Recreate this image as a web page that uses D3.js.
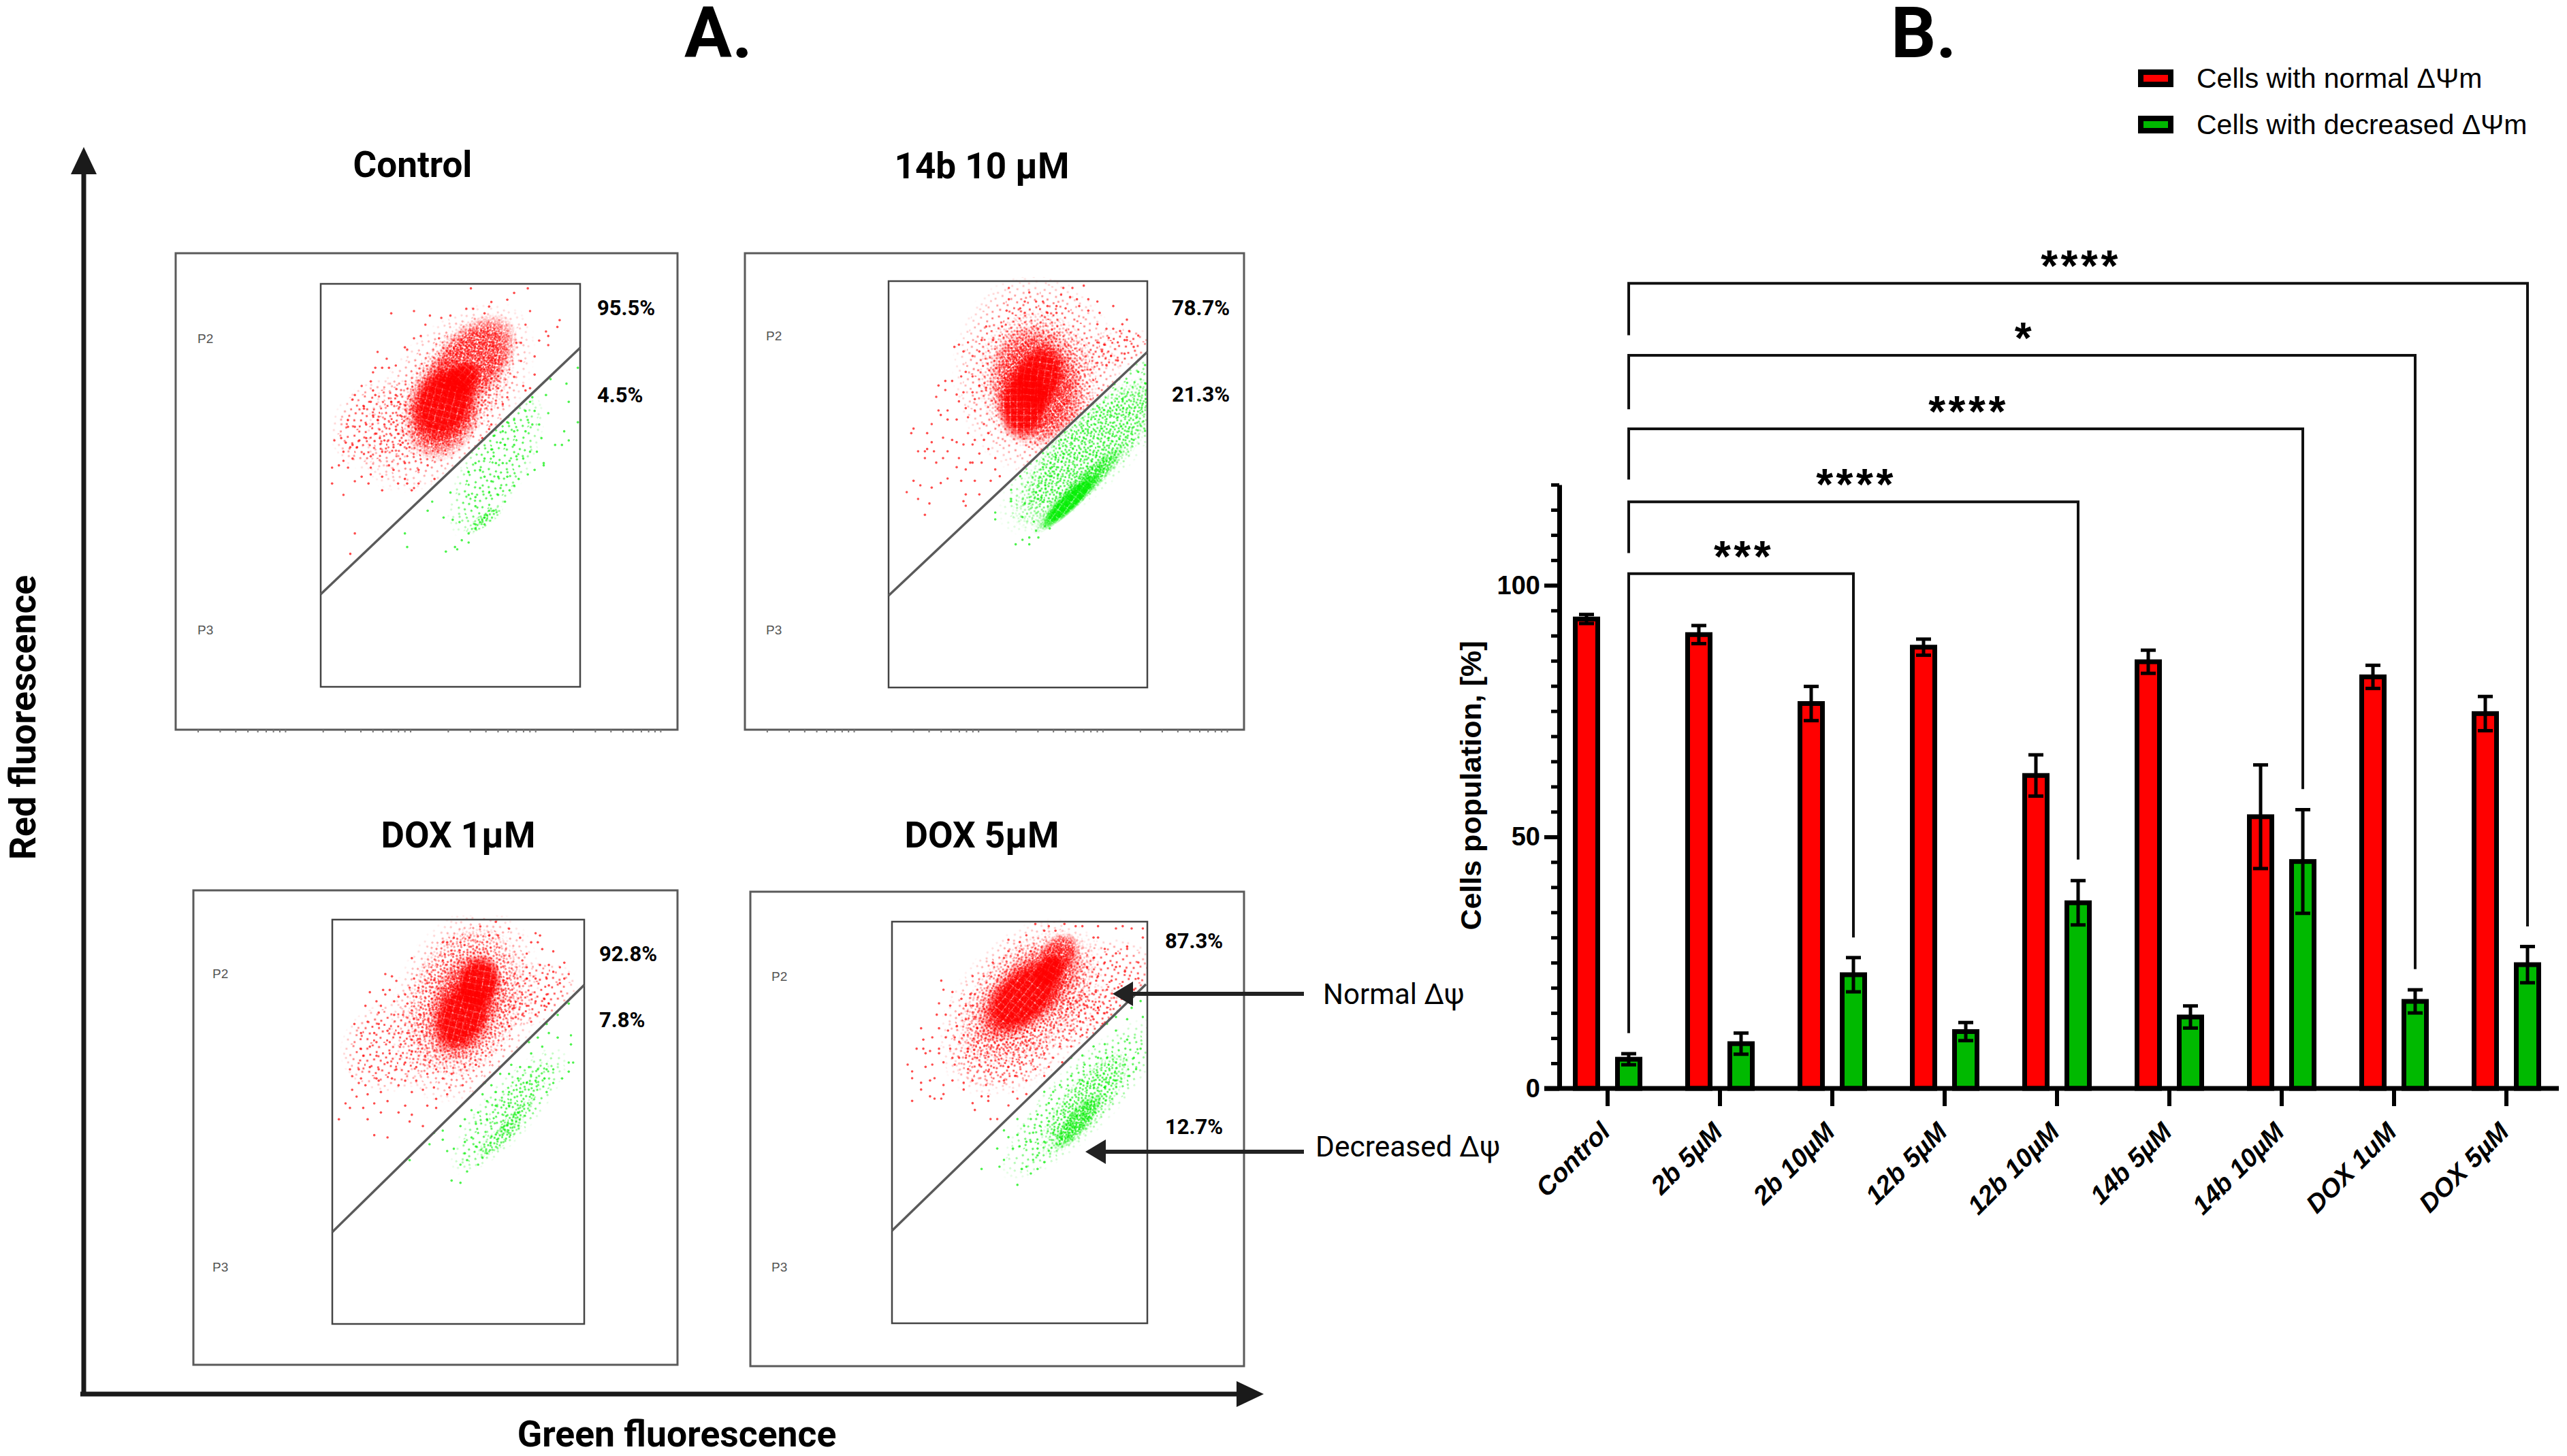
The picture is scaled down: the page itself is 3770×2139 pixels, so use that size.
<!DOCTYPE html>
<html>
<head>
<meta charset="utf-8">
<title>Mitochondrial membrane potential</title>
<script src="https://cdn.jsdelivr.net/npm/d3@7"></script>
<style>
  body { margin: 0; background: #fff; }
  svg { display: block; }
  text { font-family: "Liberation Sans", Arial, sans-serif; fill: #000; }
  .rb { font-family: Roboto, "Liberation Sans", sans-serif; }
</style>
</head>
<body>
<script>
// ---- bar chart values
var categories = ["Control", "2b 5µM", "2b 10µM", "12b 5µM", "12b 10µM", "14b 5µM", "14b 10µM", "DOX 1uM", "DOX 5µM"];
var seriesNames = ["Cells with normal ΔΨm", "Cells with decreased ΔΨm"];
var normalValues = [93.3, 90.2, 76.5, 87.7, 62.2, 84.8, 54.0, 81.8, 74.5];
var normalErrors = [0.9, 1.8, 3.4, 1.6, 4.1, 2.3, 10.3, 2.3, 3.4];
var decreasedValues = [5.8, 8.9, 22.6, 11.3, 36.9, 14.2, 45.1, 17.3, 24.6];
var decreasedErrors = [1.1, 2.1, 3.4, 1.8, 4.4, 2.2, 10.3, 2.3, 3.6];

// significance brackets, all from the Control decreased bar
var bracketTargets = ["2b 10µM", "12b 10µM", "14b 10µM", "DOX 1uM", "DOX 5µM"];
var bracketStars = ["***", "****", "****", "*", "****"];
var bracketLevels = [102.3, 116.6, 131.1, 145.7, 160.0];
var bracketLeftEnds = [11, 106.4, 121, 135, 149.7];
var bracketRightEnds = [30, 45.5, 59.5, 23.7, 32.2];

// ---- flow cytometry panels, panel A
var panelTitles = ["Control", "14b 10 µM", "DOX 1µM", "DOX 5µM"];
var panelUpper = ["95.5%", "78.7%", "92.8%", "87.3%"];
var panelLower = ["4.5%", "21.3%", "7.8%", "12.7%"];

// The clouds hold thousands of events that can't be read one by one. They are
// estimated by eye: density blobs [x, y, rx, ry, angle, level] for the crowded
// parts (level 3 nearly solid ... 0 sparse) and single dots for the readable fringe.
// Units are gate channels, x 0-114 and y 0-120 from the gate's top left.
var controlRedBlobs = [
  [56, 50, 50, 28, -50, 0], [27, 62, 24, 20, -30, 0], [60, 45, 37, 20, -55, 1],
  [54, 55, 24, 17, -75, 2], [66, 35, 26, 15, -48, 2], [54, 53, 18, 14, -65, 3], [62, 42, 10, 7, -40, 3]
];
var controlGreenBlobs = [[77, 80, 36, 14, -60, 0], [72, 104, 10, 3, -35, 1]];
var controlRedDots = [[66,2],[91,2],[85,4],[82,7],[75,8],[74,10],[31,13],[41,12],[92,12],[105,16],[104,19],[90,18],[46,18],[48,14],[53,15],[57,14],[64,11],[67,11],[72,13],[99,21],[100,23],[100,27],[96,25],[88,26],[86,26],[44,23],[41,24],[52,24],[25,30],[29,33],[37,28],[38,29],[88,34],[94,32],[94,40],[30,37],[33,36],[27,37],[24,37],[23,39],[22,43],[18,45],[15,49],[14,51],[23,47],[24,49],[19,54],[22,52],[19,55],[12,60],[12,63],[15,63],[20,62],[23,58],[25,60],[28,62],[31,52],[33,49],[35,53],[35,58],[32,61],[24,66],[26,68],[28,69],[20,68],[17,69],[14,71],[11,70],[6,69],[9,68],[13,72],[16,72],[10,74],[10,78],[14,77],[19,75],[22,76],[27,74],[32,72],[36,70],[39,72],[8,80],[5,81],[12,81],[18,85],[15,87],[22,81],[22,84],[27,85],[30,80],[32,82],[37,86],[38,88],[34,88],[5,88],[10,93],[21,88],[27,91],[40,91],[41,90],[43,88],[43,82],[37,79],[47,80],[50,86],[15,110],[13,119],[90,47],[89,45],[92,46],[82,50],[80,53],[78,46],[85,41],[75,62],[74,64],[71,68]];
var controlGreenDots = [[113,37],[108,44],[109,52],[100,57],[113,61],[107,65],[109,69],[106,71],[103,71],[97,68],[93,62],[96,62],[91,60],[90,56],[94,56],[92,52],[99,49],[93,50],[95,46],[101,42],[97,42],[85,60],[82,61],[85,65],[90,65],[80,65],[76,67],[79,70],[81,71],[85,71],[75,73],[92,74],[89,77],[95,74],[98,79],[98,80],[94,82],[91,84],[87,86],[85,89],[83,91],[78,93],[81,96],[76,100],[72,103],[70,105],[68,108],[65,110],[62,113],[59,116],[60,117],[65,114],[74,100],[73,102],[71,104],[72,106],[68,106],[65,93],[68,94],[70,90],[72,85],[70,82],[65,83],[68,79],[72,77],[76,76],[77,79],[80,79],[83,78],[86,76],[75,87],[78,85],[82,85],[79,90],[74,92],[68,98],[61,105],[58,104],[54,103],[47,100],[49,96],[48,91],[57,92],[37,110],[38,116],[55,118]];

var dox14RedBlobs = [
  [66, 42, 46, 38, 80, 0], [100, 30, 17, 9, -15, 0], [66, 44, 32, 27, 80, 1],
  [65, 46, 27, 21, 80, 2], [60, 53, 18, 12, -80, 3], [66, 43, 16, 12, -70, 3]
];
var dox14GreenBlobs = [
  [90, 70, 56, 20, -45, 0], [88, 75, 46, 15, -45, 1], [84, 92, 28, 5, -44, 2], [80, 97, 18, 4, -44, 3]
];
var dox14RedDots = [[53,3],[62,5],[77,3],[81,3],[86,2],[76,6],[80,7],[83,8],[88,8],[92,9],[99,11],[53,8],[60,9],[65,9],[68,9],[70,11],[74,11],[78,12],[84,11],[52,13],[58,12],[60,14],[70,14],[74,14],[88,13],[93,14],[105,17],[103,19],[92,19],[96,21],[99,21],[102,22],[106,22],[110,24],[104,26],[97,25],[92,27],[95,28],[101,27],[105,26],[108,29],[104,32],[94,31],[98,33],[101,35],[96,37],[92,36],[89,39],[43,20],[50,20],[41,26],[46,26],[35,27],[31,28],[29,29],[33,31],[37,33],[40,31],[34,40],[32,42],[28,44],[25,44],[37,42],[22,46],[40,46],[43,47],[25,48],[21,51],[30,50],[33,49],[37,49],[38,52],[22,57],[26,57],[31,53],[34,56],[38,57],[35,60],[30,61],[26,61],[23,59],[19,63],[11,65],[10,67],[17,67],[24,69],[28,70],[30,71],[35,67],[38,70],[42,63],[44,67],[19,71],[17,74],[13,75],[16,75],[20,75],[26,75],[33,72],[37,72],[42,70],[16,78],[21,80],[24,78],[31,78],[36,80],[40,76],[44,74],[30,82],[34,83],[37,80],[41,80],[47,78],[47,83],[11,88],[14,90],[19,91],[23,89],[26,87],[32,88],[38,88],[45,88],[49,86],[8,93],[13,96],[18,98],[33,97],[34,94],[40,94],[34,99],[16,103]];
var dox14GreenDots = [[47,102],[47,105],[54,92],[54,96],[54,97],[60,98],[63,97],[66,96],[65,93],[64,106],[59,104],[69,90],[71,86],[72,82],[68,82],[77,76],[76,70],[58,86],[58,81],[69,108],[71,109],[65,110],[66,113],[62,113],[59,114],[62,116],[56,116],[113,27],[113,37],[113,45],[112,54],[113,66],[108,70],[110,40],[105,38],[100,42],[103,52],[95,46],[87,55],[92,55]];

var dox1RedBlobs = [
  [60, 38, 46, 32, -70, 0], [27, 56, 24, 20, -20, 0], [88, 33, 24, 14, -15, 0], [60, 36, 36, 25, -70, 1],
  [60, 38, 27, 16, -70, 2], [59, 42, 18, 12, -65, 3], [66, 28, 13, 10, -70, 3]
];
var dox1GreenBlobs = [[80, 84, 38, 12, -48, 0], [83, 80, 24, 7, -50, 0], [76, 96, 14, 4, -40, 1], [83, 87, 12, 3, -45, 1]];
var dox1RedDots = [[74,1],[67,3],[80,4],[92,6],[94,7],[71,7],[75,7],[85,8],[90,10],[93,10],[55,8],[50,10],[52,10],[58,10],[62,8],[36,17],[95,13],[100,14],[88,15],[86,18],[98,20],[105,19],[103,21],[94,20],[88,21],[100,23],[107,24],[105,26],[97,26],[92,26],[88,26],[84,28],[98,29],[103,28],[97,33],[90,33],[92,36],[96,35],[86,33],[85,37],[82,39],[88,38],[92,42],[96,38],[98,37],[86,42],[83,43],[90,45],[80,47],[24,24],[27,25],[29,27],[35,30],[37,26],[44,24],[39,30],[43,28],[23,31],[26,31],[17,32],[20,36],[24,33],[30,34],[33,33],[38,34],[15,38],[22,38],[28,36],[34,37],[10,46],[16,45],[21,46],[21,41],[28,42],[32,42],[36,40],[40,42],[13,50],[19,50],[25,49],[30,50],[34,50],[40,46],[13,57],[17,56],[20,54],[26,54],[31,55],[36,53],[40,55],[14,60],[20,60],[26,59],[31,60],[36,58],[42,60],[8,66],[12,66],[17,65],[21,66],[25,63],[29,66],[33,63],[38,65],[44,63],[47,66],[9,69],[13,70],[20,70],[27,70],[33,71],[38,71],[43,68],[50,70],[54,68],[60,65],[65,64],[12,72],[15,73],[21,71],[30,73],[46,74],[53,74],[59,73],[9,75],[11,78],[16,77],[22,76],[36,76],[41,75],[52,77],[6,81],[8,83],[14,83],[19,81],[25,80],[33,82],[43,82],[47,79],[3,88],[16,88],[22,85],[30,85],[36,86],[35,89],[47,83],[41,91],[19,95],[25,96]];
var dox1GreenDots = [[107,37],[104,38],[100,37],[97,40],[102,42],[97,46],[98,50],[102,52],[108,51],[108,55],[93,52],[89,54],[95,56],[90,59],[85,56],[107,63],[109,63],[100,66],[97,66],[93,66],[89,65],[85,65],[81,64],[80,68],[76,68],[84,70],[88,72],[92,71],[96,70],[100,72],[104,70],[107,67],[72,73],[69,72],[68,77],[74,76],[80,76],[85,76],[90,77],[97,76],[63,84],[66,85],[70,80],[74,82],[80,82],[84,85],[60,88],[65,90],[70,88],[58,91],[50,93],[46,94],[44,99],[50,97],[60,98],[63,96],[65,100],[60,103],[52,102],[55,101],[58,108],[61,106],[66,108],[68,105],[70,103],[61,111],[54,115],[58,116],[35,106]];

var dox5RedBlobs = [
  [58, 38, 46, 30, -50, 0], [93, 28, 28, 20, -20, 0], [85, 42, 20, 12, -30, 0], [50, 58, 24, 16, -10, 0],
  [60, 34, 38, 22, -45, 1], [61, 31, 30, 15, -42, 2], [75, 14, 10, 8, -50, 2], [59, 33, 22, 12, -42, 3], [70, 22, 9, 6, -50, 3]
];
var dox5GreenBlobs = [[85, 78, 50, 15, -45, 0], [86, 80, 30, 10, -50, 1], [83, 88, 16, 5, -50, 2]];
var dox5RedDots = [[22,26],[23,30],[27,31],[36,24],[41,24],[21,36],[26,37],[31,34],[35,32],[37,32],[20,41],[24,41],[30,41],[33,37],[36,37],[13,47],[21,47],[25,48],[29,46],[33,43],[37,42],[14,52],[18,51],[24,51],[28,51],[32,50],[38,47],[11,56],[14,56],[17,57],[21,56],[26,56],[30,53],[34,56],[38,53],[7,63],[15,58],[21,58],[27,60],[30,60],[33,60],[38,60],[9,66],[9,69],[15,64],[18,63],[23,62],[28,63],[34,65],[39,63],[43,66],[13,71],[17,70],[19,69],[23,72],[27,70],[32,71],[36,70],[42,72],[13,74],[17,77],[19,78],[22,78],[23,76],[32,74],[40,77],[43,77],[9,79],[36,80],[37,83],[43,79],[47,87],[44,87],[52,81],[54,75],[50,70],[56,78],[60,76],[55,68],[52,64],[58,62],[64,65],[68,68],[60,70],[64,1],[70,2],[77,1],[82,2],[85,2],[92,2],[103,2],[107,3],[52,8],[57,9],[60,6],[68,4],[73,4],[90,7],[92,7],[100,3],[112,3],[112,7],[62,13],[57,13],[52,13],[45,18],[50,16],[105,11],[95,12],[100,14],[105,12],[110,18],[100,20],[95,18],[90,16],[87,20],[92,24],[98,26],[104,22],[110,25],[108,30],[101,29],[96,30],[91,31],[86,32],[82,35],[87,37],[92,38],[96,40],[80,38],[84,44],[90,43],[94,45],[80,48],[85,50],[78,52],[75,55],[80,55],[72,60],[76,62],[70,64],[68,58]];
var dox5GreenDots = [[112,27],[111,35],[107,38],[112,42],[100,42],[105,43],[96,45],[100,48],[105,52],[111,56],[108,60],[104,63],[109,65],[95,54],[90,55],[85,59],[80,60],[76,63],[100,62],[96,60],[92,60],[86,63],[106,68],[100,70],[95,73],[90,72],[85,70],[80,68],[75,72],[72,75],[68,75],[70,80],[65,85],[62,87],[56,87],[59,90],[63,93],[66,90],[70,88],[62,97],[65,100],[68,97],[72,93],[75,95],[50,92],[52,95],[56,94],[47,100],[50,105],[54,100],[57,99],[60,97],[65,103],[68,106],[60,108],[62,111],[58,109],[65,109],[40,109],[48,108],[56,116],[63,105],[70,101],[75,98]];

var redBlobs = [controlRedBlobs, dox14RedBlobs, dox1RedBlobs, dox5RedBlobs];
var greenBlobs = [controlGreenBlobs, dox14GreenBlobs, dox1GreenBlobs, dox5GreenBlobs];
var redDots = [controlRedDots, dox14RedDots, dox1RedDots, dox5RedDots];
var greenDots = [controlGreenDots, dox14GreenDots, dox1GreenDots, dox5GreenDots];

// speckle tile for the blobs, fractions of the tile
var speckle = [[.05,.12],[.22,.03],[.41,.09],[.63,.02],[.84,.11],[.13,.31],[.33,.24],[.52,.29],[.72,.21],[.93,.33],[.03,.49],[.24,.46],[.44,.51],[.61,.42],[.81,.47],[.15,.66],[.35,.71],[.55,.62],[.74,.69],[.96,.61],[.07,.83],[.27,.88],[.47,.81],[.67,.9],[.86,.82],[.18,.97],[.58,.97],[.38,.37],[.9,.72],[.76,.55]];

var width = 3770,
    height = 2139;

var svg = d3.select("body").append("svg")
    .attr("width", width)
    .attr("height", height);

var defs = svg.append("defs");

// soft edge for the blobs
var soft = defs.append("radialGradient").attr("id", "softStops");
soft.append("stop").attr("offset", "65%").attr("stop-color", "#fff");
soft.append("stop").attr("offset", "100%").attr("stop-color", "#000");
defs.append("mask").attr("id", "softEdge")
    .attr("maskContentUnits", "objectBoundingBox")
    .attr("x", 0).attr("y", 0).attr("width", 1).attr("height", 1)
    .append("rect").attr("width", 1).attr("height", 1).attr("fill", "url(#softStops)");

var tileSizes = [48, 28, 17, 10];
function addSpeckle(name, colour) {
    tileSizes.forEach(function(size, level) {
        var pattern = defs.append("pattern")
            .attr("id", name + level)
            .attr("patternUnits", "userSpaceOnUse")
            .attr("width", size)
            .attr("height", size)
            .attr("patternTransform", "rotate(" + (17 + level * 21) + ")");
        pattern.selectAll("rect").data(speckle).enter().append("rect")
            .attr("x", function(d) { return d[0] * size; })
            .attr("y", function(d) { return d[1] * size; })
            .attr("width", 2.8)
            .attr("height", 2.8)
            .attr("fill", colour)
            .attr("fill-opacity", 0.7);
    });
}
addSpeckle("redTile", "#ff0000");
addSpeckle("greenTile", "#00ee00");

// ---- panel A
var panelLayout = [
    { outer: [258, 372, 995, 1072], gate: [471, 417, 852, 1009], diag: [471, 873, 852, 511], cloudX: 471, cloudY: 417, cloudW: 381, titleX: 606, titleY: 241, pctX: 877, pctY: [452, 580], pX: 290, pY: [497, 925], ticks: true },
    { outer: [1094, 372, 1827, 1072], gate: [1305, 413, 1685, 1010], diag: [1305, 875, 1685, 517], cloudX: 1305, cloudY: 413, cloudW: 380, titleX: 1442, titleY: 243, pctX: 1721, pctY: [452, 579], pX: 1125, pY: [493, 925], ticks: true },
    { outer: [284, 1308, 995, 2005], gate: [488, 1351, 858, 1945], diag: [488, 1810, 858, 1447], cloudX: 488, cloudY: 1351, cloudW: 370, titleX: 673, titleY: 1226, pctX: 880, pctY: [1401, 1498], pX: 312, pY: [1430, 1861], ticks: false },
    { outer: [1102, 1310, 1827, 2007], gate: [1310, 1354, 1685, 1944], diag: [1310, 1808, 1683, 1446], cloudX: 1310, cloudY: 1354, cloudW: 375, titleX: 1442, titleY: 1226, pctX: 1711, pctY: [1382, 1655], pX: 1133, pY: [1434, 1861], ticks: false }
];

panelLayout.forEach(function(p, i) {
    var g = svg.append("g");
    var gx0 = p.gate[0], gy0 = p.gate[1], gx1 = p.gate[2], gy1 = p.gate[3];

    g.append("text").attr("class", "rb").attr("x", p.titleX).attr("y", p.titleY + 19)
        .attr("text-anchor", "middle")
        .attr("font-size", 53).attr("font-weight", 700)
        .text(panelTitles[i]);

    g.append("rect")
        .attr("x", p.outer[0]).attr("y", p.outer[1])
        .attr("width", p.outer[2] - p.outer[0]).attr("height", p.outer[3] - p.outer[1])
        .attr("fill", "#fff").attr("stroke", "#5a5a5a").attr("stroke-width", 3);

    // faint log ticks under the plot frame
    if (p.ticks) {
        var logX = d3.scaleLog().domain([1.33, 13700]).range([p.outer[0], p.outer[2]]);
        g.append("g").attr("transform", "translate(0," + p.outer[3] + ")")
            .call(d3.axisBottom(logX).tickSize(4).tickFormat(""))
            .call(function(a) { a.select(".domain").remove(); a.selectAll("line").attr("stroke", "#777").attr("stroke-width", 2); });
    }

    // channel scales for this gate
    var cx = d3.scaleLinear().domain([0, 114]).range([p.cloudX, p.cloudX + p.cloudW]);
    var cy = d3.scaleLinear().domain([0, 120]).range([p.cloudY, p.cloudY + 400]);

    var upperClip = "clipUp" + i, lowerClip = "clipLow" + i;
    defs.append("clipPath").attr("id", upperClip).append("polygon")
        .attr("points", [[gx0, gy0 - 6], [gx1, gy0 - 6], [gx1, p.diag[3]], [gx0, p.diag[1]]].join(" "));
    defs.append("clipPath").attr("id", lowerClip).append("polygon")
        .attr("points", [[gx0, p.diag[1]], [gx1, p.diag[3]], [gx1, gy1], [gx0, gy1]].join(" "));

    function drawCloud(blobs, dots, name, colour, clip) {
        var cloud = g.append("g").attr("clip-path", "url(#" + clip + ")");
        cloud.selectAll("ellipse").data(blobs).enter().append("ellipse")
            .attr("cx", function(d) { return cx(d[0]); })
            .attr("cy", function(d) { return cy(d[1]); })
            .attr("rx", function(d) { return cx(d[2]) - cx(0); })
            .attr("ry", function(d) { return cy(d[3]) - cy(0); })
            .attr("transform", function(d) { return "rotate(" + d[4] + " " + cx(d[0]) + " " + cy(d[1]) + ")"; })
            .attr("mask", "url(#softEdge)")
            .attr("fill", function(d) { return "url(#" + name + d[5] + ")"; });
        cloud.selectAll("circle").data(dots).enter().append("circle")
            .attr("cx", function(d) { return cx(d[0]); })
            .attr("cy", function(d) { return cy(d[1]); })
            .attr("r", 1.8)
            .attr("fill", colour)
            .attr("fill-opacity", 0.7);
    }
    drawCloud(redBlobs[i], redDots[i], "redTile", "#ff0000", upperClip);
    drawCloud(greenBlobs[i], greenDots[i], "greenTile", "#00ee00", lowerClip);

    g.append("rect")
        .attr("x", gx0).attr("y", gy0)
        .attr("width", gx1 - gx0).attr("height", gy1 - gy0)
        .attr("fill", "none").attr("stroke", "#444").attr("stroke-width", 2.5);
    g.append("line")
        .attr("x1", p.diag[0]).attr("y1", p.diag[1])
        .attr("x2", p.diag[2]).attr("y2", p.diag[3])
        .attr("stroke", "#5a5a5a").attr("stroke-width", 3.5);

    g.append("text").attr("class", "rb").attr("x", p.pctX).attr("y", p.pctY[0] + 11)
        .attr("font-size", 31).attr("font-weight", 700).text(panelUpper[i]);
    g.append("text").attr("class", "rb").attr("x", p.pctX).attr("y", p.pctY[1] + 11)
        .attr("font-size", 31).attr("font-weight", 700).text(panelLower[i]);
    g.append("text").attr("x", p.pX).attr("y", p.pY[0] + 7)
        .attr("font-size", 19).style("fill", "#555").text("P2");
    g.append("text").attr("x", p.pX).attr("y", p.pY[1] + 7)
        .attr("font-size", 19).style("fill", "#555").text("P3");
});

function arrow(x1, y1, x2, y2, stroke, head, half, colour) {
    var dx = x2 - x1, dy = y2 - y1, len = Math.sqrt(dx * dx + dy * dy);
    var ux = dx / len, uy = dy / len;
    var bx = x2 - ux * head, by = y2 - uy * head;
    svg.append("line")
        .attr("x1", x1).attr("y1", y1).attr("x2", bx).attr("y2", by)
        .attr("stroke", colour).attr("stroke-width", stroke);
    svg.append("polygon")
        .attr("points", [[x2, y2], [bx - uy * half, by + ux * half], [bx + uy * half, by - ux * half]].join(" "))
        .attr("fill", colour);
}

// big axes of panel A
arrow(123, 2046, 123, 216, 7, 40, 19, "#1a1a1a");
arrow(118, 2048, 1856, 2048, 7, 40, 19, "#1a1a1a");
// callouts in the last plot
arrow(1915, 1460, 1634, 1460, 6, 30, 18, "#222");
arrow(1915, 1692, 1594, 1692, 6, 30, 18, "#222");

svg.append("text").attr("class", "rb").attr("x", 1943).attr("y", 1475).attr("font-size", 42).text("Normal Δψ");
svg.append("text").attr("class", "rb").attr("x", 1932).attr("y", 1699).attr("font-size", 42.5).text("Decreased Δψ");

svg.append("text").attr("class", "rb")
    .attr("transform", "translate(52,1054) rotate(-90)")
    .attr("text-anchor", "middle")
    .attr("font-size", 53.5).attr("font-weight", 700)
    .text("Red fluorescence");
svg.append("text").attr("class", "rb")
    .attr("x", 994).attr("y", 2125)
    .attr("text-anchor", "middle")
    .attr("font-size", 53.5).attr("font-weight", 700)
    .text("Green fluorescence");

svg.append("text").attr("class", "rb").attr("x", 1005).attr("y", 84).attr("font-size", 104).attr("font-weight", 700).text("A.");
svg.append("text").attr("class", "rb").attr("x", 2777).attr("y", 84).attr("font-size", 104).attr("font-weight", 700).text("B.");

// ---- panel B
var xRange = d3.scaleBand().domain(categories).range([2278.5, 3763.5]);
var yRange = d3.scaleLinear().domain([0, 120]).range([1599, 712]);
var barOffset = 31,
    barWidth = 33;

function barCentre(category, sign) {
    return xRange(category) + xRange.bandwidth() / 2 + sign * barOffset;
}

var series = [
    { values: normalValues, errors: normalErrors, fill: "#ff0000", sign: -1 },
    { values: decreasedValues, errors: decreasedErrors, fill: "#00b900", sign: 1 }
];

series.forEach(function(s) {
    var g = svg.append("g");
    var rows = categories.map(function(c, i) { return { c: c, v: s.values[i], e: s.errors[i] }; });

    g.selectAll("rect").data(rows).enter().append("rect")
        .attr("x", function(d) { return barCentre(d.c, s.sign) - barWidth / 2; })
        .attr("y", function(d) { return yRange(d.v); })
        .attr("width", barWidth)
        .attr("height", function(d) { return yRange(0) - yRange(d.v); })
        .attr("fill", s.fill)
        .attr("stroke", "#000")
        .attr("stroke-width", 7);

    var err = g.selectAll("g").data(rows).enter().append("g")
        .attr("stroke", "#000").attr("stroke-width", 5);
    err.append("line")
        .attr("x1", function(d) { return barCentre(d.c, s.sign); })
        .attr("x2", function(d) { return barCentre(d.c, s.sign); })
        .attr("y1", function(d) { return yRange(d.v - d.e); })
        .attr("y2", function(d) { return yRange(d.v + d.e); });
    [-1, 1].forEach(function(dir) {
        err.append("line")
            .attr("x1", function(d) { return barCentre(d.c, s.sign) - 11; })
            .attr("x2", function(d) { return barCentre(d.c, s.sign) + 11; })
            .attr("y1", function(d) { return yRange(d.v + dir * d.e); })
            .attr("y2", function(d) { return yRange(d.v + dir * d.e); });
    });
});

// y axis, minor ticks every 5 and labelled ones at 0, 50, 100
var minorAxis = svg.append("g").attr("transform", "translate(2290,0)")
    .call(d3.axisLeft(yRange).tickValues(d3.range(0, 121, 5)).tickSize(12).tickFormat("").tickSizeOuter(0));
minorAxis.select(".domain").attr("stroke", "#000").attr("stroke-width", 7);
minorAxis.selectAll("line").attr("stroke", "#000").attr("stroke-width", 5);

var majorAxis = svg.append("g").attr("transform", "translate(2290,0)")
    .call(d3.axisLeft(yRange).tickValues([0, 50, 100]).tickSize(22).tickPadding(6).tickSizeOuter(0));
majorAxis.select(".domain").remove();
majorAxis.selectAll("line").attr("stroke", "#000").attr("stroke-width", 6);
majorAxis.selectAll("text")
    .attr("font-size", 38).attr("font-weight", 700)
    .style("font-family", "'Liberation Sans', Arial, sans-serif");

svg.append("text")
    .attr("transform", "translate(2175,1154) rotate(-90)")
    .attr("text-anchor", "middle")
    .attr("font-size", 43).attr("font-weight", 700)
    .text("Cells population, [%]");

// x axis
var bottomAxis = svg.append("g").attr("transform", "translate(0,1599)")
    .call(d3.axisBottom(xRange).tickSize(26).tickSizeOuter(0));
bottomAxis.select(".domain").remove();
bottomAxis.selectAll("line").attr("stroke", "#000").attr("stroke-width", 6);
bottomAxis.selectAll("text")
    .attr("font-size", 38).attr("font-weight", 700).attr("font-style", "italic")
    .style("font-family", "'Liberation Sans', Arial, sans-serif")
    .attr("text-anchor", "end")
    .attr("dy", 0)
    .attr("transform", "translate(6,66) rotate(-45)")
    .attr("y", 0).attr("x", 0);
svg.append("line")
    .attr("x1", 2268).attr("x2", 3758)
    .attr("y1", 1599).attr("y2", 1599)
    .attr("stroke", "#000").attr("stroke-width", 7);

// significance brackets
var startCategory = categories[0];
bracketTargets.forEach(function(target, i) {
    var x0 = barCentre(startCategory, 1),
        x1 = barCentre(target, 1),
        level = yRange(bracketLevels[i]);
    var path = d3.path();
    path.moveTo(x0, yRange(bracketLeftEnds[i]));
    path.lineTo(x0, level);
    path.lineTo(x1, level);
    path.lineTo(x1, yRange(bracketRightEnds[i]));
    svg.append("path")
        .attr("d", path.toString())
        .attr("fill", "none")
        .attr("stroke", "#111")
        .attr("stroke-width", 4);
    svg.append("text")
        .attr("x", (x0 + x1) / 2 + 4)
        .attr("y", level - 3)
        .attr("text-anchor", "middle")
        .attr("font-size", 64)
        .attr("font-weight", 700)
        .attr("letter-spacing", 4.5)
        .text(bracketStars[i]);
});

// legend
var legendColour = d3.scaleOrdinal().domain(seriesNames).range(["#ff0000", "#00b900"]);
var legendY = d3.scalePoint().domain(seriesNames).range([115, 183]);
var legend = svg.selectAll(".legend").data(seriesNames).enter().append("g")
    .attr("class", "legend")
    .attr("transform", function(d) { return "translate(0," + legendY(d) + ")"; });
legend.append("rect")
    .attr("x", 3144).attr("y", -9)
    .attr("width", 44).attr("height", 18)
    .attr("fill", function(d) { return legendColour(d); })
    .attr("stroke", "#000").attr("stroke-width", 8);
legend.append("text")
    .attr("x", 3226).attr("y", 14)
    .attr("font-size", 41)
    .text(function(d) { return d; });
</script>
</body>
</html>
